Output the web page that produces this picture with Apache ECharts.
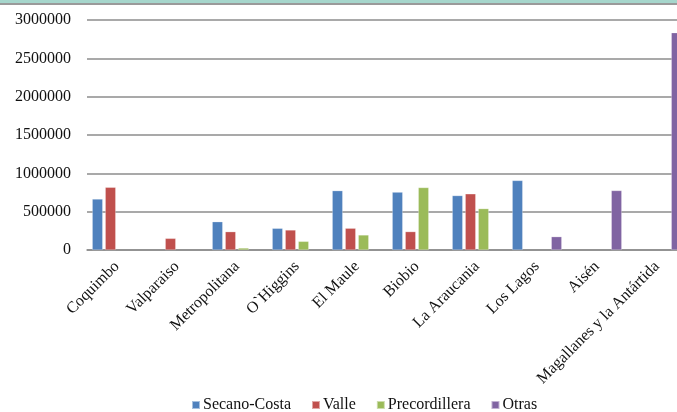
<!DOCTYPE html>
<html>
<head>
<meta charset="utf-8">
<style>
  html, body { margin: 0; padding: 0; background: #fff; overflow: hidden; width: 677px; height: 412px; }
  #chart { width: 687px; height: 412px; }
</style>
<script src="https://cdn.jsdelivr.net/npm/echarts@6/dist/echarts.min.js"></script>
</head>
<body>
<div id="chart"></div>
<script>
// Regions along the x axis
const regions = [
  'Coquimbo', 'Valparaiso', 'Metropolitana', 'O`Higgins', 'El Maule',
  'Biobio', 'La Araucania', 'Los Lagos', 'Aisén', 'Magallanes y la Antártida'
];

// Values per zone (null where the zone has no entry)
const secanoCosta   = [665000, null, 369000, 283000, 774000, 755000, 710000, 907000, null, null];
const valle         = [818000, 152000, 239000, 261000, 284000, 240000, 733000, null, null, null];
const precordillera = [null, null, 26000, 113000, 196000, 815000, 540000, null, null, null];
const otras         = [null, null, null, null, null, null, null, 174000, 776000, 2835000];

const seriesNames  = ['Secano-Costa', 'Valle', 'Precordillera', 'Otras'];
const seriesValues = [secanoCosta, valle, precordillera, otras];
const seriesColors = ['#4f81bd', '#c0504d', '#9bbb59', '#8064a2'];

// Y axis ticks
const yMin = 0, yMax = 3000000, yStep = 500000;

const font = 'Liberation Serif';
const chart = echarts.init(document.getElementById('chart'));

chart.setOption({
  animation: false,
  color: seriesColors,
  textStyle: { fontFamily: font, color: '#000' },
  graphic: [
    { type: 'rect', shape: { x: 0, y: 0, width: 687, height: 3 }, style: { fill: '#a6d6cc' }, z: 10 },
    { type: 'rect', shape: { x: 0, y: 3, width: 687, height: 2 }, style: { fill: '#9a9a9a' }, z: 10 }
  ],
  grid: { left: 87, top: 20, bottom: 162, right: 0, containLabel: false },
  legend: {
    data: seriesNames,
    left: 186,
    top: 392,
    itemWidth: 8,
    itemHeight: 8,
    itemGap: 20,
    icon: 'rect',
    textStyle: { fontFamily: font, fontSize: 16, color: '#111', padding: [0, 0, 0, -2] }
  },
  xAxis: {
    type: 'category',
    data: regions,
    axisLine: { lineStyle: { color: '#8c8c8c', width: 1.5 } },
    axisTick: { show: false },
    axisLabel: {
      interval: 0,
      rotate: 45,
      margin: 14,
      fontFamily: font,
      fontSize: 16,
      color: '#111'
    }
  },
  yAxis: {
    type: 'value',
    min: yMin,
    max: yMax,
    interval: yStep,
    axisLine: { show: false },
    axisTick: { show: false },
    axisLabel: {
      margin: 16,
      fontFamily: font,
      fontSize: 16,
      color: '#111',
      formatter: (v) => String(v)
    },
    splitLine: { lineStyle: { color: '#8c8c8c', width: 1.5 } }
  },
  series: seriesNames.map((name, i) => ({
    name: name,
    type: 'bar',
    data: seriesValues[i],
    barWidth: 10.5,
    barGap: '24%',
    itemStyle: { color: seriesColors[i], borderColor: 'rgba(255,255,255,0.5)', borderWidth: 0.5 }
  }))
});
</script>
</body>
</html>
